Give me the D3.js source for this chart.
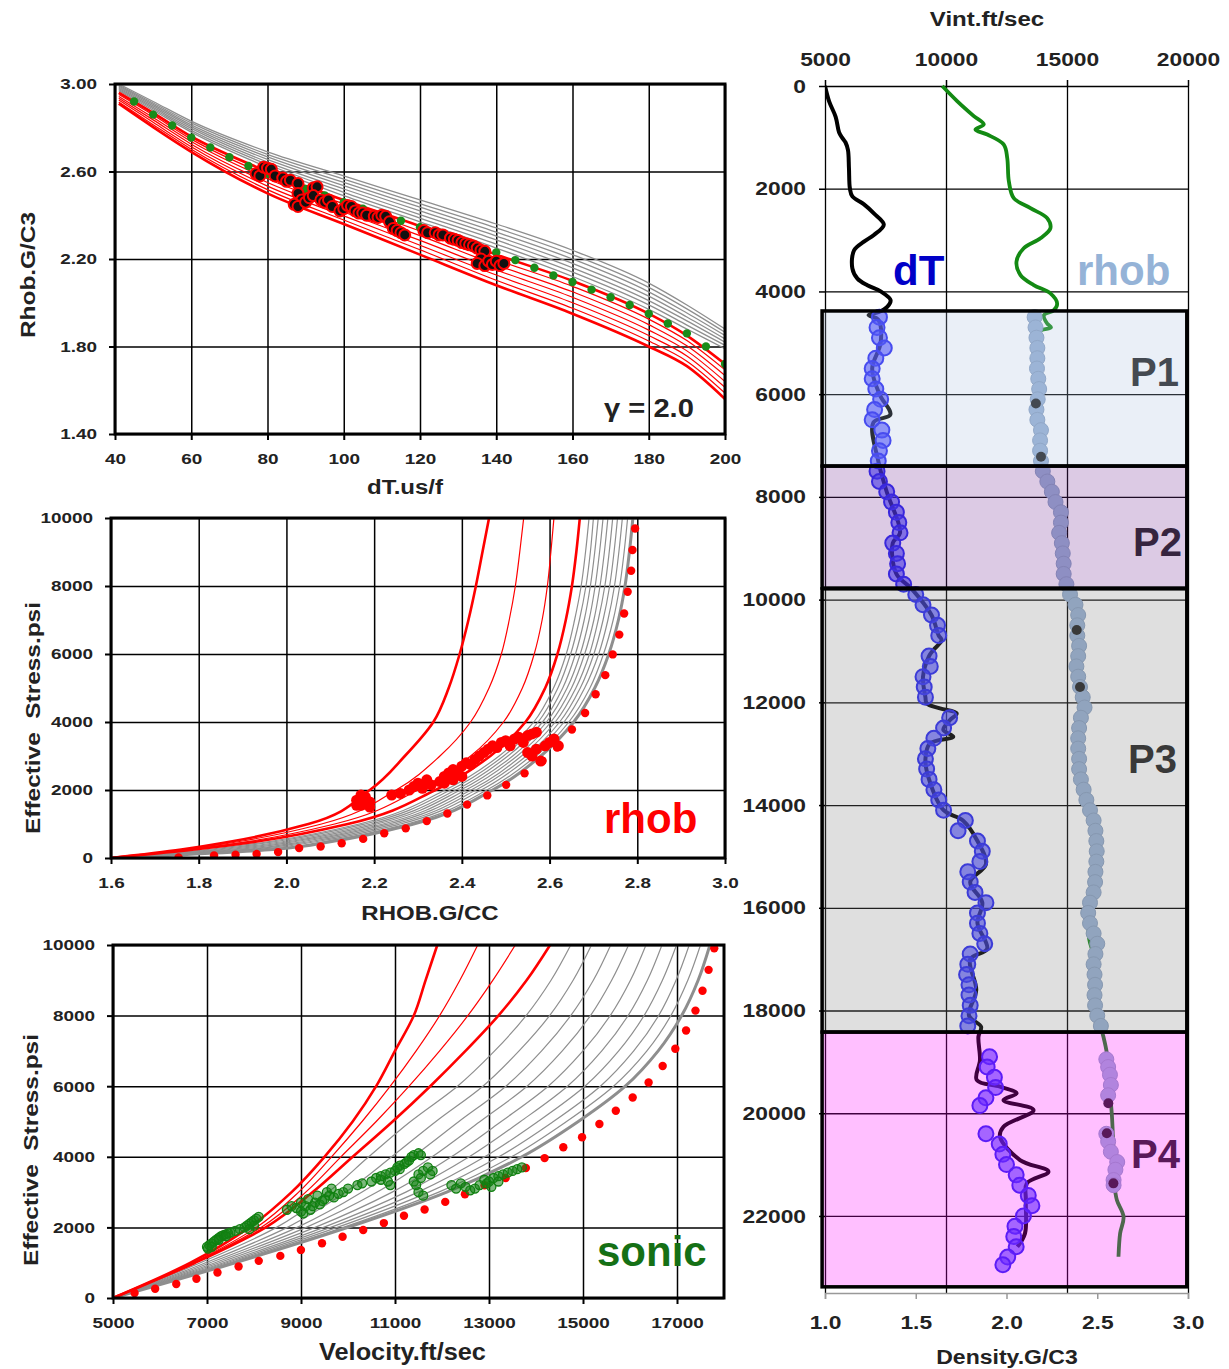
<!DOCTYPE html>
<html><head><meta charset="utf-8">
<script src="https://cdn.jsdelivr.net/npm/d3@7"></script>
<style>
body{margin:0;background:#fff}
svg text{font-family:"Liberation Sans",Arial,sans-serif;font-weight:bold;fill:#222}
</style></head>
<body>
<script>
// ---------------- DATA ----------------
// Panel 1: Rhob vs dT model curves
const p1DT = [41, 50, 60, 80, 100, 120, 140, 160, 180, 190, 200];
const p1GrayRho = [
 [3.00, 2.92, 2.83, 2.69, 2.58, 2.47, 2.36, 2.24, 2.09, 1.99, 1.88],
 [2.995, 2.913, 2.822, 2.678, 2.565, 2.453, 2.342, 2.22, 2.07, 1.972, 1.865],
 [2.99, 2.907, 2.813, 2.667, 2.55, 2.437, 2.323, 2.20, 2.05, 1.953, 1.85],
 [2.985, 2.90, 2.805, 2.655, 2.535, 2.42, 2.305, 2.18, 2.03, 1.935, 1.835],
 [2.98, 2.893, 2.797, 2.643, 2.52, 2.403, 2.287, 2.16, 2.01, 1.917, 1.82],
 [2.975, 2.887, 2.788, 2.632, 2.505, 2.387, 2.268, 2.14, 1.99, 1.898, 1.805],
 [2.97, 2.88, 2.78, 2.62, 2.49, 2.37, 2.25, 2.12, 1.97, 1.88, 1.79]
];
const p1RedRho = [
 [2.96, 2.868, 2.76, 2.60, 2.47, 2.35, 2.22, 2.10, 1.95, 1.85, 1.72],
 [2.952, 2.858, 2.748, 2.583, 2.452, 2.328, 2.197, 2.075, 1.925, 1.827, 1.693],
 [2.943, 2.847, 2.737, 2.567, 2.433, 2.307, 2.173, 2.05, 1.90, 1.803, 1.667],
 [2.935, 2.836, 2.725, 2.55, 2.415, 2.285, 2.15, 2.025, 1.875, 1.78, 1.64],
 [2.927, 2.825, 2.713, 2.533, 2.397, 2.263, 2.127, 2.00, 1.85, 1.757, 1.613],
 [2.918, 2.814, 2.702, 2.517, 2.378, 2.242, 2.103, 1.975, 1.825, 1.733, 1.587],
 [2.91, 2.803, 2.69, 2.50, 2.36, 2.22, 2.08, 1.95, 1.80, 1.71, 1.56]
];
const p1GreenDots = [[45,2.92],[50,2.86],[55,2.81],[60,2.755],[65,2.71],[70,2.665],[75,2.625],[80,2.59],[85,2.555],[90,2.52],[95,2.49],[100,2.46],[105,2.43],[110,2.40],[115,2.375],[120,2.345],[125,2.32],[130,2.29],[135,2.26],[140,2.23],[145,2.195],[150,2.16],[155,2.125],[160,2.095],[165,2.06],[170,2.025],[175,1.99],[180,1.95],[185,1.905],[190,1.86],[195,1.80],[200,1.72]];
const p1Points = [[77,2.59],[78,2.58],[79,2.62],[80,2.615],[81,2.61],[82,2.58],[84,2.57],[85,2.555],[86,2.56],[88,2.545],[88,2.50],[89,2.47],[87,2.45],[88,2.44],[90,2.46],[91,2.48],[92,2.525],[93,2.53],[92,2.49],[94,2.47],[95,2.46],[96,2.47],[97,2.44],[99,2.42],[100,2.43],[101,2.445],[102,2.44],[103,2.42],[104,2.41],[105,2.41],[106,2.40],[108,2.395],[109,2.39],[110,2.40],[111,2.395],[112,2.37],[113,2.34],[114,2.33],[115,2.32],[116,2.31],[121,2.33],[122,2.32],[124,2.32],[125,2.31],[126,2.31],[128,2.295],[129,2.29],[130,2.285],[131,2.275],[132,2.27],[133,2.265],[134,2.26],[135,2.25],[136,2.24],[137,2.235],[136,2.20],[135,2.18],[137,2.17],[138,2.19],[139,2.175],[140,2.19],[141,2.17],[142,2.18]];

// Panel 2: effective stress vs RHOB
const p2Stress = [0, 250, 500, 1000, 2000, 3000, 4000, 5000, 6000, 7000, 8000, 9000, 10000];
const p2RedRho = [
 [1.60, 1.76, 1.88, 2.05, 2.19, 2.27, 2.335, 2.37, 2.395, 2.415, 2.432, 2.447, 2.462],
 [1.60, 1.77, 1.90, 2.08, 2.25, 2.35, 2.42, 2.462, 2.49, 2.508, 2.522, 2.532, 2.541],
 [1.60, 1.78, 1.92, 2.11, 2.30, 2.42, 2.495, 2.538, 2.565, 2.583, 2.595, 2.603, 2.61],
 [1.60, 1.79, 1.94, 2.14, 2.34, 2.465, 2.545, 2.59, 2.618, 2.637, 2.651, 2.661, 2.669]
];
const p2GrayRho = [
 [1.60, 1.821, 1.969, 2.166, 2.362, 2.485, 2.564, 2.609, 2.638, 2.657, 2.672, 2.682, 2.690],
 [1.60, 1.837, 1.984, 2.179, 2.374, 2.495, 2.574, 2.619, 2.648, 2.668, 2.683, 2.693, 2.700],
 [1.60, 1.853, 2.000, 2.193, 2.386, 2.505, 2.584, 2.630, 2.659, 2.679, 2.693, 2.703, 2.711],
 [1.60, 1.869, 2.015, 2.206, 2.397, 2.516, 2.593, 2.640, 2.670, 2.690, 2.704, 2.714, 2.722],
 [1.60, 1.885, 2.030, 2.220, 2.409, 2.526, 2.603, 2.650, 2.680, 2.701, 2.715, 2.725, 2.733],
 [1.60, 1.902, 2.045, 2.233, 2.421, 2.536, 2.613, 2.660, 2.691, 2.711, 2.726, 2.736, 2.744],
 [1.60, 1.918, 2.061, 2.247, 2.432, 2.547, 2.623, 2.670, 2.701, 2.722, 2.737, 2.747, 2.755],
 [1.60, 1.934, 2.076, 2.260, 2.444, 2.557, 2.633, 2.680, 2.712, 2.733, 2.748, 2.758, 2.766],
 [1.60, 1.952, 2.093, 2.275, 2.457, 2.569, 2.644, 2.692, 2.723, 2.745, 2.760, 2.770, 2.778],
 [1.60, 1.970, 2.110, 2.290, 2.470, 2.580, 2.655, 2.703, 2.735, 2.757, 2.772, 2.782, 2.790]
];
const p2ModelDots = [[1.754,19],[1.835,78],[1.884,97],[1.932,116],[1.981,174],[2.029,291],[2.078,339],[2.126,436],[2.175,562],[2.223,727],[2.272,872],[2.32,1085],[2.367,1308],[2.412,1570],[2.458,1841],[2.501,2151],[2.543,2490],[2.584,2858],[2.617,3246],[2.651,3779],[2.681,4264],[2.705,4816],[2.727,5378],[2.744,5988],[2.759,6570],[2.77,7190],[2.778,7829],[2.786,8450],[2.789,9060],[2.795,9690]];
const p2Points = [[2.16,1700],[2.17,1550],[2.18,1800],[2.19,1650],[2.17,1850],[2.19,1500],[2.16,1550],[2.18,1600],[2.24,1850],[2.26,1900],[2.28,2000],[2.29,2100],[2.30,2200],[2.32,2300],[2.31,2050],[2.33,2150],[2.35,2250],[2.36,2400],[2.37,2500],[2.38,2600],[2.39,2550],[2.40,2700],[2.41,2800],[2.42,2750],[2.43,2900],[2.44,3000],[2.45,3100],[2.46,3200],[2.47,3300],[2.48,3250],[2.49,3400],[2.50,3450],[2.51,3300],[2.52,3500],[2.53,3550],[2.54,3400],[2.55,3600],[2.56,3650],[2.57,3700],[2.55,3100],[2.56,3000],[2.58,2850],[2.57,3200],[2.59,3300],[2.60,3400],[2.61,3500],[2.62,3300],[2.38,2300],[2.40,2400],[2.36,2200]];

// Panel 3: effective stress vs velocity
const p3Stress = [0, 1000, 2000, 3000, 4000, 5000, 6000, 7000, 8000, 9000, 10000];
const p3RedV = [
 [5000, 6650, 7900, 8800, 9500, 10100, 10600, 11000, 11400, 11650, 11900],
 [5000, 6700, 8050, 8950, 9650, 10300, 10900, 11450, 11950, 12380, 12760],
 [5000, 6720, 8150, 9100, 9850, 10600, 11300, 11950, 12550, 13080, 13560],
 [5000, 6750, 8250, 9250, 10100, 10950, 11750, 12500, 13200, 13800, 14300]
];
const p3GrayV = [
 [5000, 6860, 8480, 9580, 10440, 11330, 12330, 13120, 13790, 14320, 14740],
 [5000, 6970, 8710, 9950, 10930, 11870, 12870, 13640, 14290, 14790, 15180],
 [5000, 7070, 8920, 10300, 11380, 12360, 13360, 14120, 14740, 15220, 15590],
 [5000, 7170, 9110, 10620, 11790, 12810, 13810, 14560, 15160, 15610, 15970],
 [5000, 7260, 9300, 10940, 12200, 13260, 14260, 15000, 15580, 16010, 16340],
 [5000, 7350, 9480, 11230, 12580, 13670, 14670, 15400, 15960, 16370, 16680],
 [5000, 7420, 9630, 11490, 12910, 14040, 15040, 15760, 16300, 16690, 16990],
 [5000, 7490, 9770, 11720, 13210, 14370, 15370, 16080, 16610, 16980, 17260],
 [5000, 7550, 9900, 11930, 13480, 14650, 15650, 16360, 16870, 17230, 17500],
 [5000, 7600, 10000, 12100, 13700, 14900, 15900, 16600, 17100, 17450, 17700]
];
const p3ModelDots = [[5459,141],[5897,263],[6346,395],[6775,545],[7223,723],[7672,892],[8101,1052],[8560,1193],[8998,1362],[9447,1549],[9885,1737],[10324,1925],[10763,2122],[11191,2329],[11630,2507],[12069,2723],[12488,2939],[12906,3193],[13355,3399],[13784,3681],[14183,3963],[14581,4272],[14980,4554],[15349,4930],[15698,5305],[16057,5681],[16396,6104],[16695,6573],[16964,7061],[17193,7578],[17393,8141],[17543,8705],[17672,9296],[17792,9906]];
const p3Points = [[7000,1450],[7050,1500],[7100,1550],[7150,1600],[7200,1650],[7250,1700],[7300,1750],[7350,1780],[7400,1800],[7450,1830],[7500,1850],[7600,1900],[7700,1950],[7800,2000],[7850,2050],[7900,2100],[7950,2150],[8000,2200],[8050,2250],[8100,2300],[7020,1400],[7100,1450],[7250,1650],[7400,1750],[8000,2050],[7900,1950],
 [8700,2500],[8800,2600],[8900,2550],[9000,2450],[9000,2700],[9100,2600],[9150,2800],[9200,2500],[9300,2700],[9350,2900],[9400,2650],[9500,2800],[9550,3000],[9600,2900],[9650,3100],[9700,2850],[9800,2950],[9900,3000],[9050,2400],[9250,2600],[9450,2750],
 [10000,3100],[10200,3200],
 [10300,3250],[10500,3300],[10600,3400],[10700,3350],[10800,3500],[10850,3300],[10900,3550],[11000,3600],[11050,3700],[11100,3750],[11200,3800],[11250,3850],[11300,3900],[11350,4000],[11400,4050],[11500,4100],[11550,4050],[10900,3200],[11100,3650],[10700,3450],
 [11400,3300],[11500,3500],[11550,3400],[11600,3600],[11700,3700],[11750,3500],[11800,3600],[11450,3200],[11500,3000],[11600,2900],
 [12200,3200],[12300,3100],[12400,3250],[12500,3150],[12600,3050],[12700,3100],[12800,3200],[12900,3350],[12950,3250],
 [13000,3300],[13100,3400],[13200,3450],[13300,3500],[13400,3550],[13500,3600],[13600,3650],[13700,3700],[13050,3150],[13200,3300]];

// Right panel: depth logs  [depth ft, value]
const dtLine = [[0,5000],[300,5170],[600,5440],[900,5580],[1000,5700],[1100,5850],[1250,5950],[1600,5990],[2000,6030],[2150,6130],[2300,6600],[2480,7020],[2700,7430],[2900,7020],[3030,6610],[3200,6200],[3550,6130],[3750,6340],[3880,6750],[4000,7300],[4170,7710],[4300,7570],[4400,7230],[4460,6800],[4550,7200],[5000,7300],[5500,6950],[6000,7250],[6400,7700],[6550,7000],[7300,7200],[7900,7550],[8700,8100],[8900,7800],[9500,7950],[9800,8600],[10300,9400],[10700,9700],[10790,9820],[10980,9480],[11100,9300],[11500,9050],[11900,9150],[12020,9200],[12117,9753],[12214,10442],[12344,10165],[12538,9889],[12668,10300],[12800,9340],[13100,9150],[13500,9300],[14100,9900],[14300,10700],[14700,11300],[15150,11650],[15500,11000],[15900,11500],[16300,11300],[16800,11700],[17000,11000],[17600,11250],[18100,10950],[18315,11450],[18510,11340],[18964,11405],[19353,11270],[19483,12231],[19613,12920],[19743,12376],[19938,13617],[20263,12376],[20457,12231],[20911,13057],[21139,14234],[21365,13341],[21700,13300],[22339,13264],[22600,12950]];
const dtPoints = [[4500,7250],[4700,7150],[4900,7250],[5100,7450],[5300,7100],[5500,6950],[5700,6950],[5900,7100],[6100,7300],[6300,7050],[6500,6950],[6700,7350],[6900,7400],[7100,7250],[7300,7200],
 [7500,7150],[7700,7250],[7900,7550],[8100,7750],[8300,7950],[8500,8050],[8700,8100],[8900,7800],[9100,7950],[9300,8000],[9500,7950],[9700,8250],
 [9900,8750],[10100,9050],[10300,9400],[10500,9650],[10700,9700],[11100,9300],[11300,9350],[11500,9050],[11700,9100],[11900,9150],
 [12300,10150],[12500,9900],[12700,9500],[12900,9250],[13100,9150],[13300,9200],[13500,9300],[13700,9500],[13900,9700],[14100,9900],[14300,10800],[14500,10500],[14700,11300],[14900,11500],[15100,11400],[15300,10900],[15500,11000],[15700,11200],[15900,11650],[16100,11300],[16300,11300],[16500,11400],[16700,11600],[16900,11000],[17100,10900],[17300,10850],[17500,10950],[17700,10950],[17900,11000],[18100,10950],[18300,10900],
 [18900,11800],[19100,11700],[19300,12000],[19500,12050],[19700,11650],[19850,11400],[20400,11650],[20600,12200],[20800,12350],[21000,12500],[21200,12900],[21400,13050],[21600,13400],[21800,13550],[22000,13200],[22200,12850],[22400,12800],[22600,12900],[22800,12550],[22950,12350]];
const rhobLine = [[0,1.646],[293,1.728],[586,1.82],[749,1.875],[847,1.829],[945,1.894],[1140,1.985],[1401,2.004],[1857,2.013],[2182,2.04],[2378,2.132],[2573,2.224],[2769,2.242],[2964,2.187],[3160,2.095],[3420,2.055],[3681,2.077],[3876,2.15],[4039,2.242],[4235,2.279],[4365,2.261],[4463,2.206],[4625,2.224],[4700,2.245],[4800,2.17],[6000,2.175],[7300,2.19],[7500,2.20],[8300,2.30],[9700,2.33],[10100,2.38],[10700,2.39],[11000,2.405],[11800,2.41],[12500,2.40],[13500,2.41],[14300,2.48],[15000,2.497],[16000,2.455],[16600,2.455],[17000,2.485],[18000,2.49],[18380,2.524],[18510,2.534],[18834,2.553],[19400,2.565],[20002,2.58],[20261,2.584],[20800,2.59],[21400,2.595],[21690,2.608],[22014,2.645],[22339,2.626],[22794,2.617]];
const rhobPoints = [[4500,2.155],[4700,2.16],[4900,2.165],[5100,2.17],[5300,2.17],[5500,2.168],[5700,2.175],[5900,2.18],[6100,2.172],[6300,2.165],[6500,2.17],[6700,2.19],[6900,2.185],[7100,2.185],[7300,2.19],
 [7500,2.20],[7700,2.225],[7900,2.25],[8100,2.27],[8300,2.30],[8500,2.30],[8700,2.29],[8900,2.305],[9100,2.31],[9300,2.315],[9500,2.315],[9700,2.33],
 [9900,2.35],[10100,2.38],[10300,2.395],[10500,2.39],[10700,2.39],[10900,2.40],[11100,2.395],[11300,2.385],[11500,2.395],[11700,2.405],[11900,2.42],[12100,2.43],[12300,2.41],[12500,2.40],[12700,2.395],[12900,2.395],[13100,2.40],[13300,2.40],[13500,2.41],[13700,2.425],[13900,2.44],[14100,2.46],[14300,2.48],[14500,2.49],[14700,2.495],[14900,2.497],[15100,2.495],[15300,2.49],[15500,2.488],[15700,2.48],[15900,2.46],[16100,2.45],[16300,2.46],[16500,2.48],[16700,2.50],[16900,2.49],[17100,2.48],[17300,2.485],[17500,2.488],[17700,2.485],[17900,2.488],[18100,2.50],[18300,2.52],
 [18950,2.55],[19100,2.56],[19250,2.57],[19450,2.575],[19650,2.56],[20400,2.55],[20550,2.56],[20750,2.575],[20950,2.61],[21100,2.60],[21300,2.59],[21400,2.59]];
const rhobDark = [[6180,2.162],[7220,2.19],[10592,2.387],[11700,2.405],[19807,2.561],[20391,2.553],[21365,2.589]];
const zoneNames = ["P1","P2","P3","P4"];
const zoneTop = [4380, 7400, 9790, 18420];
const zoneBottom = [7400, 9775, 18420, 23380];
const zoneFill = ["rgba(171,191,223,0.25)","rgba(115,43,147,0.25)","rgba(128,128,128,0.25)","rgba(255,0,255,0.25)"];

// ---------------- DRAWING ----------------
const svg = d3.select("body").append("svg").attr("width",1229).attr("height",1369);
const defs = svg.append("defs");

function stretch(sel, sx){
  sel.each(function(){
    const L = this.getComputedTextLength();
    d3.select(this).attr("textLength", L*sx).attr("lengthAdjust","spacingAndGlyphs");
  });
  return sel;
}
function styleTicks(sel, fs, sx){
  const t = sel.selectAll("text").attr("font-size",fs).attr("font-family","Liberation Sans, Arial")
    .attr("font-weight","bold").attr("fill","#222");
  stretch(t, sx);
}

function panel(o){
  const x = d3.scaleLinear().domain(o.xd).range([o.l,o.r]);
  const y = d3.scaleLinear().domain(o.yd).range([o.b,o.t]);
  defs.append("clipPath").attr("id",o.id).append("rect")
    .attr("x",o.l).attr("y",o.t).attr("width",o.r-o.l).attr("height",o.b-o.t);
  const grid = svg.append("g");
  grid.append("g").attr("transform",`translate(0,${o.b})`)
    .call(d3.axisBottom(x).tickValues(o.xt).tickSize(-(o.b-o.t)).tickFormat(""))
    .call(a=>a.select(".domain").remove())
    .selectAll("line").attr("stroke","#000").attr("stroke-width",1.5);
  grid.append("g").attr("transform",`translate(${o.l},0)`)
    .call(d3.axisLeft(y).tickValues(o.yt).tickSize(-(o.r-o.l)).tickFormat(""))
    .call(a=>a.select(".domain").remove())
    .selectAll("line").attr("stroke","#000").attr("stroke-width",1.5);
  const data = svg.append("g").attr("clip-path",`url(#${o.id})`);
  function finish(){
    svg.append("rect").attr("x",o.l).attr("y",o.t).attr("width",o.r-o.l).attr("height",o.b-o.t)
      .attr("fill","none").attr("stroke","#000").attr("stroke-width",3);
    const ax = svg.append("g").attr("transform",`translate(0,${o.b})`)
      .call(d3.axisBottom(x).tickValues(o.xt).tickSize(6).tickPadding(13).tickFormat(o.xf));
    ax.select(".domain").remove();
    ax.selectAll("line").attr("stroke","#000").attr("stroke-width",2);
    styleTicks(ax, 15.5, 1.22);
    const ay = svg.append("g").attr("transform",`translate(${o.l},0)`)
      .call(d3.axisLeft(y).tickValues(o.yt).tickSize(6).tickPadding(o.ypad||12).tickFormat(o.yf));
    ay.select(".domain").remove();
    ay.selectAll("line").attr("stroke","#000").attr("stroke-width",2);
    styleTicks(ay, 15.5, 1.22);
    stretch(svg.append("text").attr("x",(o.l+o.r)/2 + (o.xtdx||0)).attr("y",o.xty).attr("text-anchor","middle")
      .attr("font-size",o.xtfs||20).text(o.xtitle), o.xtsx||1.2);
    stretch(svg.append("text").attr("transform",`translate(${o.ytx},${o.yty}) rotate(-90)`).attr("text-anchor","middle")
      .attr("font-size",20).style("white-space","pre").text(o.ytitle), 1.22);
  }
  return {x,y,data,finish};
}

// ---- Panel 1
const P1 = panel({id:"c1",l:115,r:725,t:84,b:434,xd:[40,200],yd:[1.4,3.0],
  xt:d3.range(40,201,20), yt:[1.4,1.8,2.2,2.6,3.0], xf:d3.format("d"), yf:d3.format(".2f"),
  xtitle:"dT.us/f", xty:494, xtdx:-15, ytitle:"Rhob.G/C3", ytx:35, yty:275});
{
  const line = d3.line().x(d=>P1.x(d[0])).y(d=>P1.y(d[1])).curve(d3.curveMonotoneX);
  p1GrayRho.forEach(arr=>{
    P1.data.append("path").attr("d",line(p1DT.map((t,i)=>[t,arr[i]])))
      .attr("fill","none").attr("stroke","#8e8e8e").attr("stroke-width",1.3);
  });
  p1RedRho.forEach((arr,k)=>{
    P1.data.append("path").attr("d",line(p1DT.map((t,i)=>[t,arr[i]])))
      .attr("fill","none").attr("stroke","#f00").attr("stroke-width",(k===0||k===p1RedRho.length-1)?2.6:1.2);
  });
  P1.data.selectAll(".gd").data(p1GreenDots).join("circle")
    .attr("cx",d=>P1.x(d[0])).attr("cy",d=>P1.y(d[1])).attr("r",4.2).attr("fill","#1a8c1a");
  P1.data.selectAll(".pt").data(p1Points).join("circle")
    .attr("cx",d=>P1.x(d[0])).attr("cy",d=>P1.y(d[1])).attr("r",5.5)
    .attr("fill","#111").attr("stroke","#f00").attr("stroke-width",2);
}
P1.finish();
stretch(svg.append("text").attr("x",604).attr("y",417).attr("font-size",26).attr("fill","#111").text("γ = 2.0"), 1.12);

// ---- Panel 2
const P2 = panel({id:"c2",l:111,r:725,t:518,b:858,xd:[1.6,3.0],yd:[0,10000],
  xt:[1.6,1.8,2.0,2.2,2.4,2.6,2.8,3.0], yt:[0,2000,4000,6000,8000,10000], xf:d3.format(".1f"), yf:d3.format("d"),
  xtitle:"RHOB.G/CC", xty:920, xtdx:12, ytitle:"Effective  Stress.psi", ytx:40, yty:718});
{
  const line = d3.line().x(d=>P2.x(d[0])).y(d=>P2.y(d[1])).curve(d3.curveMonotoneY);
  p2GrayRho.forEach((arr,k)=>{
    P2.data.append("path").attr("d",line(p2Stress.map((s,i)=>[arr[i],s])))
      .attr("fill","none").attr("stroke","#8e8e8e").attr("stroke-width",k===p2GrayRho.length-1?3:1.2);
  });
  p2RedRho.forEach((arr,k)=>{
    P2.data.append("path").attr("d",line(p2Stress.map((s,i)=>[arr[i],s])))
      .attr("fill","none").attr("stroke","#f00").attr("stroke-width",(k===0||k===3)?2.6:1.2);
  });
  P2.data.selectAll(".md").data(p2ModelDots).join("circle")
    .attr("cx",d=>P2.x(d[0])).attr("cy",d=>P2.y(d[1])).attr("r",4.2).attr("fill","#f00");
  P2.data.selectAll(".pt").data(p2Points).join("circle")
    .attr("cx",d=>P2.x(d[0])).attr("cy",d=>P2.y(d[1])).attr("r",5.5).attr("fill","#f00");
}
P2.finish();
svg.append("text").attr("x",604).attr("y",833).attr("font-size",42).attr("font-family","Lato, 'Open Sans', sans-serif")
  .style("fill","#f00").text("rhob");

// ---- Panel 3
const P3 = panel({id:"c3",l:113,r:724,t:945,b:1298,xd:[5000,18000],yd:[0,10000],
  xt:[5000,7000,9000,11000,13000,15000,17000], yt:[0,2000,4000,6000,8000,10000], xf:d3.format("d"), yf:d3.format("d"),
  xtitle:"Velocity.ft/sec", xty:1360, xtdx:-16, xtfs:23, xtsx:1.1, ytitle:"Effective  Stress.psi", ytx:38, yty:1150});
{
  const line = d3.line().x(d=>P3.x(d[0])).y(d=>P3.y(d[1])).curve(d3.curveMonotoneY);
  p3GrayV.forEach((arr,k)=>{
    P3.data.append("path").attr("d",line(p3Stress.map((s,i)=>[arr[i],s])))
      .attr("fill","none").attr("stroke","#8e8e8e").attr("stroke-width",k===p3GrayV.length-1?3:1.2);
  });
  p3RedV.forEach((arr,k)=>{
    P3.data.append("path").attr("d",line(p3Stress.map((s,i)=>[arr[i],s])))
      .attr("fill","none").attr("stroke","#f00").attr("stroke-width",(k===0||k===3)?2.6:1.2);
  });
  P3.data.selectAll(".md").data(p3ModelDots).join("circle")
    .attr("cx",d=>P3.x(d[0])).attr("cy",d=>P3.y(d[1])).attr("r",4.2).attr("fill","#f00");
  P3.data.selectAll(".pt").data(p3Points).join("circle")
    .attr("cx",d=>P3.x(d[0])).attr("cy",d=>P3.y(d[1])).attr("r",4.5)
    .attr("fill","rgba(20,130,20,0.55)").attr("stroke","#118011").attr("stroke-width",1.3);
}
P3.finish();
svg.append("text").attr("x",597).attr("y",1266).attr("font-size",42).attr("font-family","Lato, 'Open Sans', sans-serif")
  .style("fill","#157015").text("sonic");

// ---- Right panel
{
  const L=825,R=1188,T=86,B=1293;
  const xv = d3.scaleLinear().domain([5000,20000]).range([L,R]);
  const xd = d3.scaleLinear().domain([1.0,3.0]).range([L,R]);
  const yz = d3.scaleLinear().domain([0,23500]).range([T,B]);
  defs.append("clipPath").attr("id","c4").append("rect").attr("x",L).attr("y",T-4).attr("width",R-L+4).attr("height",B-T+4);
  const depthTicks = d3.range(0,22001,2000);
  svg.append("g").attr("transform",`translate(${L},0)`)
    .call(d3.axisLeft(yz).tickValues(depthTicks).tickSize(-(R-L)).tickFormat(""))
    .call(a=>a.select(".domain").remove())
    .selectAll("line").attr("stroke","#000").attr("stroke-width",1.3);
  svg.append("g").attr("transform",`translate(0,${B})`)
    .call(d3.axisBottom(xv).tickValues([5000,10000,15000,20000]).tickSize(-(B-T)).tickFormat(""))
    .call(a=>a.select(".domain").remove())
    .selectAll("line").attr("stroke","#000").attr("stroke-width",1.3);
  const zl = [[1130,386],[1133,556],[1128,773],[1131,1168]];
  zoneNames.forEach((n,i)=>{
    svg.append("text").attr("x",zl[i][0]).attr("y",zl[i][1]).attr("font-size",40)
      .attr("font-family","Lato, 'Open Sans', sans-serif").style("fill","#222").text(n);
  });
  const g = svg.append("g").attr("clip-path","url(#c4)");
  const lv = d3.line().x(d=>xv(d[1])).y(d=>yz(d[0])).curve(d3.curveCatmullRom.alpha(0.5));
  const ld = d3.line().x(d=>xd(d[1])).y(d=>yz(d[0])).curve(d3.curveCatmullRom.alpha(0.5));
  g.append("path").attr("d",lv(dtLine)).attr("fill","none").attr("stroke","#000").attr("stroke-width",4);
  g.append("path").attr("d",ld(rhobLine)).attr("fill","none").attr("stroke","#138a13").attr("stroke-width",3.8);
  g.selectAll(".rp").data(rhobPoints).join("circle")
    .attr("cx",d=>xd(d[1])).attr("cy",d=>yz(d[0])).attr("r",7.5)
    .attr("fill","#97b1d3").attr("stroke","#889fc0").attr("stroke-width",1);
  g.selectAll(".rk").data(rhobDark).join("circle")
    .attr("cx",d=>xd(d[1])).attr("cy",d=>yz(d[0])).attr("r",5).attr("fill","#222");
  g.selectAll(".dp").data(dtPoints).join("circle")
    .attr("cx",d=>xv(d[1])).attr("cy",d=>yz(d[0])).attr("r",7.5)
    .attr("fill","rgba(55,55,255,0.6)").attr("stroke","#2626f5").attr("stroke-width",2);
  zoneNames.forEach((n,i)=>{
    svg.append("rect").attr("x",xv(4880)).attr("y",yz(zoneTop[i]))
      .attr("width",xv(19950)-xv(4880)).attr("height",yz(zoneBottom[i])-yz(zoneTop[i]))
      .attr("fill",zoneFill[i]).attr("stroke","#000").attr("stroke-width",3.5);
  });
  const at = svg.append("g").attr("transform",`translate(0,${T})`)
    .call(d3.axisTop(xv).tickValues([5000,10000,15000,20000]).tickSize(6).tickPadding(14).tickFormat(d3.format("d")));
  at.select(".domain").remove();
  at.selectAll("line").attr("stroke","#000").attr("stroke-width",1.5);
  styleTicks(at, 19, 1.2);
  const al = svg.append("g").attr("transform",`translate(${L},0)`)
    .call(d3.axisLeft(yz).tickValues(depthTicks).tickSize(6).tickPadding(13).tickFormat(d3.format("d")));
  al.select(".domain").remove();
  al.selectAll("line").attr("stroke","#000").attr("stroke-width",1.5);
  styleTicks(al, 19, 1.2);
  const ab = svg.append("g").attr("transform",`translate(0,${B})`)
    .call(d3.axisBottom(xd).tickValues([1.0,1.5,2.0,2.5,3.0]).tickSize(6).tickPadding(17).tickFormat(d3.format(".1f")));
  ab.select(".domain").attr("stroke","#999").attr("stroke-width",1.5);
  ab.selectAll("line").attr("stroke","#999").attr("stroke-width",1.5);
  styleTicks(ab, 19, 1.2);
  stretch(svg.append("text").attr("x",987).attr("y",26).attr("text-anchor","middle").attr("font-size",20).text("Vint.ft/sec"), 1.2);
  stretch(svg.append("text").attr("x",1007).attr("y",1364).attr("text-anchor","middle").attr("font-size",20).text("Density.G/C3"), 1.15);
  svg.append("text").attr("x",893).attr("y",285).attr("font-size",42).attr("font-family","Lato, 'Open Sans', sans-serif").style("fill","#0000c8").text("dT");
  svg.append("text").attr("x",1077).attr("y",285).attr("font-size",42).attr("font-family","Lato, 'Open Sans', sans-serif").style("fill","#95b3d7").text("rhob");
}
</script>
</body></html>
